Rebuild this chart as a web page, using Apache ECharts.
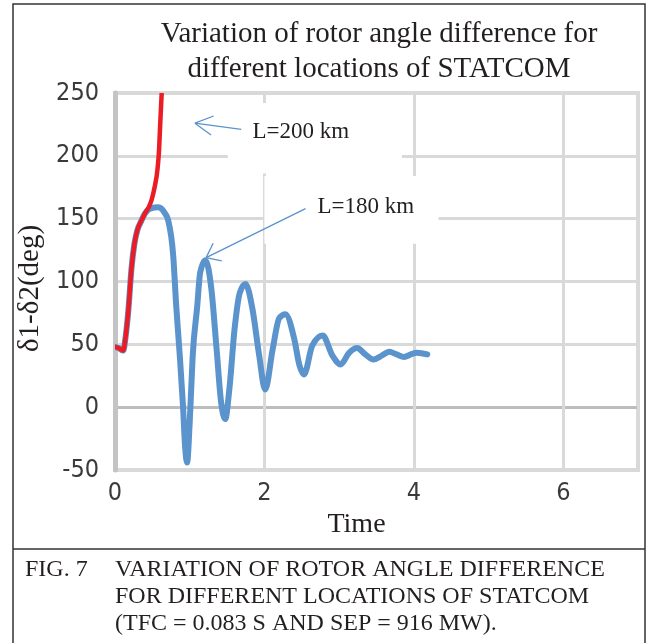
<!DOCTYPE html>
<html>
<head>
<meta charset="utf-8">
<script src="https://cdn.jsdelivr.net/npm/echarts@6/dist/echarts.min.js"></script>
<style>
  html, body { margin: 0; padding: 0; background: #fff; }
  #box1 { width: 646px; height: 643px; }
</style>
</head>
<body>
<div id="box1"></div>
<script>
// 数据
var xTicks = [0, 2, 4, 6];
var yTicks = [-50, 0, 50, 100, 150, 200, 250];

// L=180 km (blue)
var time180 = [0, 0.05, 0.11, 0.14, 0.18, 0.22, 0.26, 0.3, 0.35, 0.4, 0.47, 0.58, 0.66, 0.71, 0.78, 0.82, 0.867, 0.91, 0.94, 0.965, 1.0, 1.04, 1.1, 1.14, 1.21, 1.29, 1.36, 1.42, 1.475, 1.53, 1.6, 1.67, 1.747, 1.84, 1.93, 2.01, 2.11, 2.2, 2.28, 2.4, 2.47, 2.53, 2.64, 2.78, 2.91, 3.02, 3.13, 3.24, 3.35, 3.46, 3.57, 3.67, 3.77, 3.87, 3.96, 4.04, 4.18];
var delta180 = [48, 47, 45, 55, 78, 110, 130, 141, 148, 154, 158, 159, 155, 149, 120, 80, 41, 1, -33, -44, -12, 41, 80, 107, 117, 94, 46, 4, -9.5, 14, 62, 91, 98, 78, 41, 14, 46, 71, 74, 54, 33, 26, 49, 57, 41, 34, 43, 47, 42, 38, 41, 44, 42, 40, 42, 43.4, 42];

// L=200 km (red)
var time200 = [0, 0.05, 0.11, 0.14, 0.18, 0.22, 0.26, 0.3, 0.35, 0.4, 0.45, 0.49, 0.53, 0.57, 0.59, 0.605, 0.625];
var delta200 = [48, 47, 45, 55, 78, 110, 130, 141, 148, 154, 159, 165, 175, 190, 205, 225, 250];

// annotations in data units: arrow tip, arrow tail, label anchor, white box corners
var notes = [
  { text: 'L=200 km', tip: [1.07, 226], tail: [1.69, 221], label: [1.84, 219], box: [[1.51, 242], [3.84, 186]], head: 20, spread: 0.5 },
  { text: 'L=180 km', tip: [1.22, 119], tail: [2.55, 158], label: [2.71, 159], box: [[2.0, 184], [4.33, 130]], head: 16, spread: 0.66 }
];

var titleLines = ['Variation of rotor angle difference for', 'different locations of STATCOM'];
var captionLabel = 'FIG. 7';
var captionLines = [
  'VARIATION OF ROTOR ANGLE DIFFERENCE',
  'FOR DIFFERENT LOCATIONS OF STATCOM',
  '(TFC = 0.083 S AND SEP = 916 MW).'
];

var curves = [
  { name: 'L=180 km', xs: time180, ys: delta180, color: '#5b93cc', width: 6 },
  { name: 'L=200 km', xs: time200, ys: delta200, color: '#ec1c24', width: 4.5 }
];

function pairs(xs, ys) {
  return xs.map(function(x, i) { return [x, ys[i]]; });
}

// smooth path through the pixel points (monotone cubic in x, like d3 monotoneX)
function smoothPath(p) {
  var n = p.length, s = [], h = [], m = [];
  for (var i = 0; i < n - 1; i++) {
    h[i] = p[i + 1][0] - p[i][0];
    s[i] = (p[i + 1][1] - p[i][1]) / h[i];
  }
  for (var k = 1; k < n - 1; k++) {
    var a = s[k - 1], b = s[k];
    var q = (a * h[k] + b * h[k - 1]) / (h[k - 1] + h[k]);
    m[k] = (Math.sign(a) + Math.sign(b)) * Math.min(Math.abs(a), Math.abs(b), 0.5 * Math.abs(q)) || 0;
  }
  m[0] = (3 * s[0] - m[1]) / 2;
  m[n - 1] = (3 * s[n - 2] - m[n - 2]) / 2;
  var d = 'M' + p[0][0] + ' ' + p[0][1];
  for (var j = 0; j < n - 1; j++) {
    var dx = h[j] / 3;
    d += ' C' + (p[j][0] + dx) + ' ' + (p[j][1] + m[j] * dx) + ' ' +
      (p[j + 1][0] - dx) + ' ' + (p[j + 1][1] - m[j + 1] * dx) + ' ' +
      p[j + 1][0] + ' ' + p[j + 1][1];
  }
  return d;
}

var chart = echarts.init(document.getElementById('box1'));
var serif = "'Liberation Serif', 'DejaVu Serif', serif";
var sans = "'Liberation Sans Narrow', 'DejaVu Sans Condensed', 'Liberation Sans', sans-serif";

var option = {
  animation: false,
  title: {
    text: titleLines.join('\n'),
    left: 374,
    top: 12,
    textAlign: 'center',
    textStyle: { fontFamily: serif, fontSize: 29, fontWeight: 'normal', color: '#231f20', lineHeight: 35 }
  },
  grid: {
    left: 115, right: 8, top: 93, bottom: 173,
    show: true, borderColor: '#d9d9d9', borderWidth: 4
  },
  xAxis: {
    type: 'value',
    min: 0, max: 7, interval: 2,
    name: 'Time',
    nameLocation: 'middle',
    nameGap: 36,
    nameTextStyle: { fontFamily: serif, fontSize: 28, color: '#231f20', padding: [0, 40, 0, 0] },
    axisLine: { show: false },
    axisTick: { show: false },
    axisLabel: { showMaxLabel: false, margin: 11, fontFamily: sans, fontSize: 25, color: '#3a3a3a',
      formatter: function(v) { return xTicks.indexOf(v) >= 0 ? String(v) : ''; } },
    splitLine: { show: true, lineStyle: { color: '#d9d9d9', width: 3 } }
  },
  yAxis: {
    type: 'value',
    min: yTicks[0], max: yTicks[yTicks.length - 1], interval: 50,
    name: 'δ1-δ2(deg)',
    nameLocation: 'middle',
    nameGap: 58,
    nameTextStyle: { fontFamily: serif, fontSize: 29, color: '#231f20', padding: [0, 14, 0, 0] },
    axisLine: { show: true, onZero: false, lineStyle: { color: '#c4c4c4', width: 5 } },
    axisTick: { show: false },
    axisLabel: { margin: 16, fontFamily: sans, fontSize: 25, color: '#3a3a3a' },
    splitLine: { show: true, lineStyle: { color: ['#d9d9d9', '#bdbdbd', '#d9d9d9', '#d9d9d9', '#d9d9d9', '#d9d9d9', '#d9d9d9'], width: 3 } }
  },
  series: curves.map(function(c, idx) {
    return {
      name: c.name,
      type: 'custom',
      data: pairs(c.xs, c.ys),
      encode: { x: 0, y: 1 },
      clip: true,
      z: 3 + idx,
      renderItem: function(params, api) {
        if (params.dataIndex !== 0) return;
        var pts = c.xs.map(function(x, i) { return api.coord([x, c.ys[i]]); });
        return {
          type: 'path',
          shape: { pathData: smoothPath(pts) },
          style: { fill: null, stroke: c.color, lineWidth: c.width, lineJoin: 'round', lineCap: 'round' }
        };
      }
    };
  })
};
chart.setOption(option);

// graphics: outer frame, caption, annotations
function px(p) { return chart.convertToPixel({ gridIndex: 0 }, p); }

var g = [];
g.push({ type: 'rect', shape: { x: 13, y: 4, width: 632, height: 660 }, style: { fill: 'none', stroke: '#333', lineWidth: 1.5 }, silent: true, z: 10 });
g.push({ type: 'line', shape: { x1: 13, y1: 549, x2: 645, y2: 549 }, style: { stroke: '#333', lineWidth: 1.5 }, silent: true, z: 10 });
g.push({ type: 'text', left: 25, top: 558, style: { text: captionLabel, font: '24px ' + serif, fill: '#231f20' }, z: 10 });
captionLines.forEach(function(t, i) {
  g.push({ type: 'text', left: 115, top: 558 + i * 27, style: { text: t, font: '24px ' + serif, fill: '#231f20' }, z: 10 });
});

notes.forEach(function(n) {
  var b0 = px(n.box[0]), b1 = px(n.box[1]);
  g.push({ type: 'rect', shape: { x: b0[0], y: b0[1], width: b1[0] - b0[0], height: b1[1] - b0[1] }, style: { fill: '#fff' }, silent: true, z: 5 });
  var t = px(n.tip), s = px(n.tail), l = px(n.label);
  g.push({ type: 'line', shape: { x1: s[0], y1: s[1], x2: t[0], y2: t[1] }, style: { stroke: '#5b93cc', lineWidth: 1.3 }, silent: true, z: 6 });
  var ang = Math.atan2(s[1] - t[1], s[0] - t[0]);
  [ang - n.spread, ang + n.spread].forEach(function(a) {
    g.push({ type: 'line', shape: { x1: t[0], y1: t[1], x2: t[0] + n.head * Math.cos(a), y2: t[1] + n.head * Math.sin(a) }, style: { stroke: '#5b93cc', lineWidth: 1.3 }, silent: true, z: 6 });
  });
  g.push({ type: 'text', x: l[0], y: l[1], style: { text: n.text, font: '23px ' + serif, fill: '#231f20', textVerticalAlign: 'middle' }, z: 6 });
});

chart.setOption({ graphic: g });
</script>
</body>
</html>
